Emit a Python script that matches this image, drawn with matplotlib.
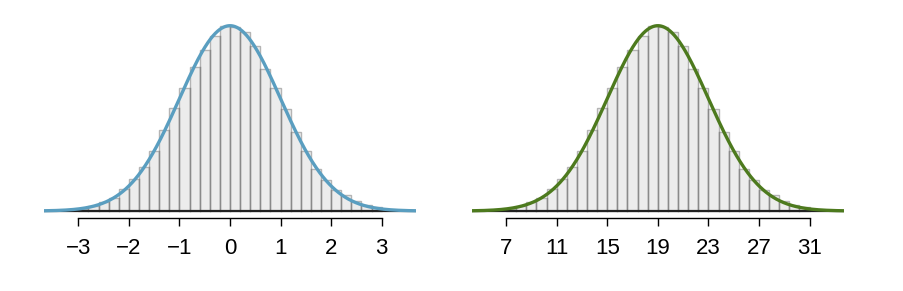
import numpy as np
import matplotlib
matplotlib.use("Agg")
import matplotlib.pyplot as plt

plt.rcParams['font.family'] = ['Liberation Sans', 'DejaVu Sans']

# ---- data ----
bin_width_z = 0.2
bin_left_z = -3.0
# histogram densities (standard-normal scale)
heights_z = [0.0036, 0.0115, 0.0187, 0.0287, 0.0466, 0.0689, 0.0940, 0.1284,
             0.1751, 0.2210, 0.2640, 0.3092, 0.3473, 0.3760, 0.3982, 0.3968,
             0.3860, 0.3559, 0.3049, 0.2655, 0.2188, 0.1708, 0.1284, 0.0911,
             0.0660, 0.0445, 0.0337, 0.0208, 0.0129, 0.0079]
left_ticks = [-3, -2, -1, 0, 1, 2, 3]
right_ticks = [7, 11, 15, 19, 23, 27, 31]
means = [0, 19]
sds = [1, 4]
curve_colors = ['#5A9EC0', '#4D7A1E']

fig = plt.figure(figsize=(9.04, 2.91), dpi=100)
W, H = 904, 291
ax_bottom_px = 217.7
ax_top_px = 20.0
boxes = [(44.0, 416.0), (471.7, 844.0)]

for i, (x0, x1) in enumerate(boxes):
    ax = fig.add_axes([x0 / W, 1 - ax_bottom_px / H, (x1 - x0) / W,
                       (ax_bottom_px - ax_top_px) / H])
    mu, sd = means[i], sds[i]
    edges = mu + sd * (bin_left_z + bin_width_z * np.arange(len(heights_z) + 1))
    h = np.array(heights_z) / sd
    ax.bar(edges[:-1], h, width=edges[1] - edges[0], align='edge',
           color='#ECECEC', edgecolor='#B4B4B4', linewidth=1.0, zorder=1)
    # darker shared edges
    hh = np.concatenate([[0], h, [0]])
    for k, e in enumerate(edges):
        top = min(hh[k], hh[k + 1])
        if top > 0:
            ax.plot([e, e], [0, top], color='#8A8A8A', lw=1.0, zorder=2)
    half = 3.68 * sd
    ax.set_xlim(mu - half, mu + half)
    peak = 1 / (sd * np.sqrt(2 * np.pi))
    scale = (192 - 6.7) / peak
    ax.set_ylim(-6.7 / scale, (ax_bottom_px - ax_top_px - 6.7) / scale)
    ax.axhline(0, color='#222222', lw=1.6, zorder=3)
    xs = np.linspace(mu - half, mu + half, 600)
    ax.plot(xs, np.exp(-0.5 * ((xs - mu) / sd) ** 2) * peak,
            color=curve_colors[i], lw=2.4, zorder=4, solid_capstyle='butt')
    for s in ['top', 'right', 'left']:
        ax.spines[s].set_visible(False)
    ticks = left_ticks if i == 0 else right_ticks
    ax.spines['bottom'].set_bounds(ticks[0], ticks[-1])
    ax.spines['bottom'].set_linewidth(1.0)
    ax.set_xticks(ticks)
    ax.set_xticklabels([str(t).replace('-', '\u2212') for t in ticks])
    ax.tick_params(axis='x', length=6, width=1.0, pad=8.5, labelsize=16)
    ax.set_yticks([])
    ax.patch.set_alpha(0)

fig.savefig('out.png', dpi=100)
